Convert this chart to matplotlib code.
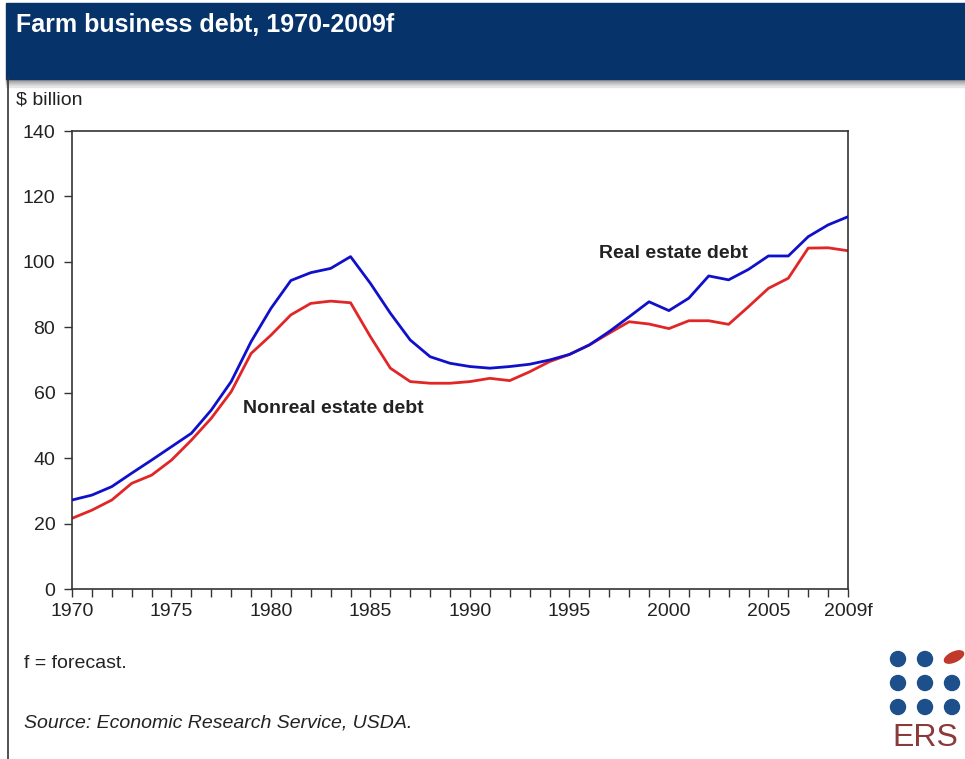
import matplotlib.pyplot as plt
import matplotlib.patches as mpatches
import numpy as np

# farm business debt, $ billion
years = list(range(1970, 2010))
real_estate = [27.2, 28.7, 31.3, 35.4, 39.4, 43.5, 47.6, 54.7, 63.4, 75.6,
               85.8, 94.3, 96.7, 98.0, 101.6, 93.4, 84.3, 76.1, 71.0, 69.0,
               68.0, 67.5, 68.0, 68.7, 70.0, 71.7, 74.6, 78.7, 83.2, 87.8,
               85.1, 88.9, 95.7, 94.5, 97.7, 101.8, 101.8, 107.7, 111.3, 113.8]
nonreal_estate = [21.6, 24.1, 27.2, 32.3, 34.8, 39.4, 45.5, 52.2, 60.3, 72.0,
                  77.6, 83.8, 87.3, 88.0, 87.5, 77.1, 67.5, 63.4, 62.9, 62.9,
                  63.4, 64.4, 63.7, 66.4, 69.5, 71.7, 74.6, 78.2, 81.7, 81.0,
                  79.6, 82.0, 82.0, 80.9, 86.3, 91.9, 95.0, 104.2, 104.3, 103.4]
xtick_years = [1970, 1975, 1980, 1985, 1990, 1995, 2000, 2005, 2009]
xtick_labels = ["1970", "1975", "1980", "1985", "1990", "1995", "2000", "2005", "2009f"]
yticks = [0, 20, 40, 60, 80, 100, 120, 140]

plt.rcParams['font.family'] = ['Liberation Sans', 'DejaVu Sans']
txt = '#222222'

fig = plt.figure(figsize=(9.65, 7.59), dpi=100)
fig.patch.set_facecolor('white')

# header band + shadow
for i in range(8):
    fig.patches.append(mpatches.Rectangle((0.006, 1 - (80 + i) / 759), 0.994, 1 / 759,
                                          transform=fig.transFigure,
                                          color=str(0.55 + i * 0.05), zorder=0))
fig.patches.append(mpatches.Rectangle((0.006, 1 - 79 / 759), 0.994, 76 / 759,
                                      transform=fig.transFigure, color='#06336a', zorder=1))
# left border line
fig.add_artist(plt.Line2D([0.008, 0.008], [0, 1 - 78 / 759], transform=fig.transFigure,
                          color='#333333', lw=1.2))

fig.text(16 / 965, 1 - 25 / 759, "Farm business debt, 1970-2009f", color='white',
         fontsize=18, fontweight='bold', va='center', ha='left')
fig.text(16 / 965, 1 - 100 / 759, "$ billion", fontsize=14, va='center', ha='left', color=txt)

ax = fig.add_axes([72 / 965, 1 - 589 / 759, 776 / 965, 458 / 759])
ax.plot(years, real_estate, color='#1010cc', lw=2.0, zorder=3)
ax.plot(years, nonreal_estate, color='#e02626', lw=2.0, zorder=2)

ax.set_xlim(1970, 2009)
ax.set_ylim(0, 140)
ax.set_yticks(yticks)
ax.set_xticks(years, minor=True)
ax.set_xticks(xtick_years)
ax.set_xticklabels(xtick_labels)
ax.tick_params(axis='both', which='both', direction='out', length=6, width=1,
               color='#333333', labelsize=14, labelcolor=txt)
ax.tick_params(axis='x', pad=4)
ax.tick_params(axis='y', pad=6)
for s in ax.spines.values():
    s.set_color('#333333')
    s.set_linewidth(1.2)

ax.text(1996.5, 102.7, "Real estate debt", fontsize=14, fontweight='bold', color=txt,
        ha='left', va='center')
ax.text(1978.6, 55.3, "Nonreal estate debt", fontsize=14, fontweight='bold', color=txt,
        ha='left', va='center')

fig.text(24 / 965, 1 - 663 / 759, "f = forecast.", fontsize=14, va='center', ha='left',
         color=txt)
fig.text(24 / 965, 1 - 723 / 759, "Source: Economic Research Service, USDA.", fontsize=14,
         style='italic', va='center', ha='left', color=txt)

# ERS logo
for cx in (898, 925, 952):
    for cy in (659, 683, 707):
        if cx == 952 and cy == 659:
            continue
        fig.patches.append(mpatches.Ellipse((cx / 965, 1 - cy / 759), 15 / 965, 15 / 759,
                                            transform=fig.transFigure, color='#1d4f8a'))
fig.patches.append(mpatches.Ellipse((954 / 965, 1 - 657 / 759), 22 / 965, 9 / 759, angle=35,
                                    transform=fig.transFigure, color='#c0392b'))
fig.text(925 / 965, 1 - 738 / 759, "ERS", fontsize=23, color='#8b3a3a', ha='center',
         va='center')

fig.savefig('out.png', dpi=100)
